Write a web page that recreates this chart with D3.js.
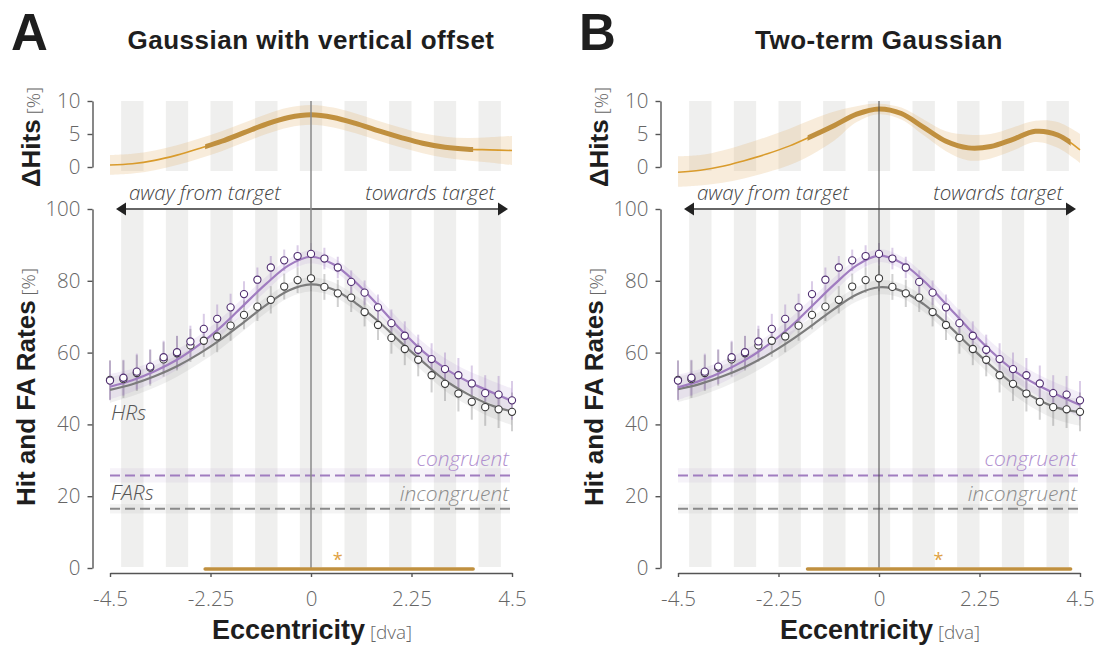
<!DOCTYPE html>
<html>
<head>
<meta charset="utf-8">
<script src="https://cdn.jsdelivr.net/npm/d3@7/dist/d3.min.js"></script>
<style>
  body { margin: 0; background: #fff; }
  svg { display: block; }
  .light { font-family: "Open Sans", Inter, sans-serif; font-weight: 300; }
  .bold { font-family: "Liberation Sans", Arial, sans-serif; font-weight: bold; fill: #1e1e1e; }
</style>
</head>
<body>
<svg id="chart" width="1113" height="646"></svg>
<script>
/////////////////////////////////////////////////////////
/////////////////////// Data ////////////////////////////
/////////////////////////////////////////////////////////

//eccentricity bins of the observed hit rates [dva]
const eccentricities = [-4.5, -4.2, -3.9, -3.6, -3.3, -3.0, -2.7, -2.4, -2.1, -1.8, -1.5,
  -1.2, -0.9, -0.6, -0.3, 0, 0.3, 0.6, 0.9, 1.2, 1.5, 1.8, 2.1, 2.4, 2.7, 3.0, 3.3, 3.6,
  3.9, 4.2, 4.5];
//observed hit rates [%]
const hrCongruent = [52.2, 53.0, 54.7, 56.1, 58.7, 60.1, 63.1, 66.6, 69.4, 72.6, 76.3,
  80.3, 83.7, 85.7, 86.9, 87.5, 86.2, 83.7, 79.7, 76.7, 72.6, 68.2, 64.7, 60.8, 58.2, 55.4,
  53.7, 51.4, 48.7, 48.3, 46.7];
const hrIncongruent = [52.4, 52.6, 54.3, 55.8, 58.1, 59.8, 62.0, 63.3, 64.5, 67.5, 70.5,
  72.8, 74.7, 78.4, 80.2, 80.7, 78.3, 76.5, 75.3, 71.3, 67.7, 64.1, 61.0, 58.0, 53.7, 51.3,
  48.6, 46.3, 44.8, 44.2, 43.5];
//error bar half lengths [%]
const errCongruent = [5.5, 5.0, 5.0, 4.8, 4.6, 4.6, 4.4, 4.2, 4.0, 3.8, 3.6, 3.4, 3.2,
  3.0, 3.0, 3.0, 3.0, 3.0, 3.2, 3.4, 3.6, 3.8, 4.0, 4.2, 4.4, 4.6, 4.8, 5.0, 5.0, 5.2, 5.4];
const errIncongruent = [5.5, 5.2, 5.0, 5.0, 4.8, 4.8, 4.6, 4.5, 4.4, 4.2, 4.0, 4.0, 3.8,
  3.6, 3.6, 3.6, 3.6, 3.8, 4.0, 4.0, 4.2, 4.4, 4.5, 4.6, 4.8, 4.8, 5.0, 5.0, 5.2, 5.2, 5.4];

//eccentricities at which the fitted curves were read
const fitGrid = [-4.5, -4, -3.5, -3, -2.5, -2, -1.5, -1, -0.5, 0, 0.5, 1, 1.5, 2, 2.5, 3,
  3.5, 4, 4.5];

//A: Gaussian with vertical offset
const fitACongruent = [50.5, 52.3, 54.8, 58.0, 62.2, 67.3, 73.3, 79.2, 84.3, 86.7, 84.6,
  79.6, 73.2, 66.5, 60.4, 55.6, 52.0, 49.2, 46.5];
const fitAIncongruent = [49.6, 51.2, 53.4, 56.2, 59.7, 63.8, 68.5, 73.3, 77.3, 79.0, 77.6,
  73.8, 68.8, 63.0, 57.5, 52.3, 48.5, 45.5, 43.6];
const dHitsA = [0.3, 0.5, 1.0, 1.8, 2.8, 3.9, 5.2, 6.5, 7.5, 7.9, 7.5, 6.6, 5.5, 4.5, 3.6,
  3.0, 2.7, 2.6, 2.5];
const dHitsALow = [-1.2, -1.0, -0.5, 0.3, 1.3, 2.4, 3.7, 5.0, 6.0, 6.4, 6.0, 5.1, 4.0, 3.0,
  2.1, 1.4, 1.0, 0.7, 0.3];
const dHitsAHigh = [1.8, 2.0, 2.5, 3.3, 4.3, 5.4, 6.7, 8.0, 9.0, 9.4, 9.0, 8.1, 7.0, 6.0,
  5.1, 4.6, 4.4, 4.5, 4.7];
const sigA = [-2.37, 3.63];
const starA = 0.6;

//B: two-term Gaussian
const fitBCongruent = [50.3, 52.2, 54.7, 57.9, 62.0, 67.0, 73.0, 79.0, 84.3, 87.0, 85.0,
  80.0, 73.5, 66.8, 60.5, 55.2, 51.3, 48.2, 45.4];
const fitBIncongruent = [49.8, 51.3, 53.4, 56.0, 59.3, 63.2, 67.6, 72.2, 76.2, 78.2, 77.2,
  73.5, 68.2, 62.2, 56.4, 51.3, 47.3, 44.6, 43.4];
const dHitsB = [-0.8, -0.5, 0.1, 1.0, 2.0, 3.2, 4.7, 6.3, 8.0, 8.8, 8.1, 6.0, 3.9, 2.9, 3.1,
  4.2, 5.4, 4.85, 2.6];
const dHitsBLow = [-3.0, -2.8, -2.4, -1.7, -0.8, 0.3, 1.9, 4.0, 6.8, 8.0, 7.2, 4.8, 2.4, 1.0,
  1.3, 2.5, 3.8, 2.9, 0.6];
const dHitsBHigh = [1.6, 1.8, 2.5, 3.5, 4.6, 5.8, 7.2, 8.4, 9.2, 9.6, 9.0, 7.2, 5.4, 4.9,
  5.0, 6.0, 7.0, 6.8, 5.0];
const sigB = [-1.6, 4.29];
const starB = 1.33;

//confidence band half widths of the fitted hit-rate curves [%]
const bandCongruent = [3.5, 3.2, 3.0, 2.8, 2.6, 2.4, 2.2, 2.0, 1.8, 1.8, 1.8, 2.0, 2.2, 2.4,
  2.6, 2.8, 3.0, 3.2, 3.5];
const bandIncongruent = [3.6, 3.3, 3.1, 2.9, 2.7, 2.5, 2.3, 2.1, 2.0, 2.0, 2.0, 2.1, 2.3,
  2.5, 2.7, 2.9, 3.1, 3.4, 3.8];

//false alarm rates [%] and their bands
const farCongruent = 25.8, farCongruentBand = 2.0;
const farIncongruent = 16.5, farIncongruentBand = 1.3;

//background stripes (centres, dva) and ticks
const stripeCentres = [-4, -3, -2, -1, 0, 1, 2, 3, 4];
const xTicks = [-4.5, -2.25, 0, 2.25, 4.5];
const xTickLabels = ['-4.5', '-2.25', '0', '2.25', '4.5'];
const yTicks = [0, 20, 40, 60, 80, 100];
const dHitsTicks = [0, 5, 10];

/////////////////////////////////////////////////////////
////////////////////// Colours //////////////////////////
/////////////////////////////////////////////////////////

const col = {
  stripe: '#efefee',
  purple: '#a07cc0',
  purpleDot: '#4f2d70',
  grey: '#7c7c7c',
  greyDot: '#3a3a3a',
  gold: '#c0903f',
  goldThin: '#d99b2c',
  goldBand: 'rgba(228,180,110,0.25)',
  axis: '#555',
  tick: '#666'
};

const svg = d3.select('#chart');

/////////////////////////////////////////////////////////
/////////////////// Draw one panel //////////////////////
/////////////////////////////////////////////////////////

function drawPanel(cfg) {
  let g = svg.append('g').attr('transform', `translate(${cfg.dx},0)`);

  let x = d3.scaleLinear().domain([-4.5, 4.5]).range([110, 512]),
    yTop = d3.scaleLinear().domain([0, 10]).range([167, 101]),
    y = d3.scaleLinear().domain([0, 100]).range([568, 209]);

  let curve = d3.curveCatmullRom.alpha(0.5);

  //Panel letter and title
  g.append('text')
    .attr('class', 'bold')
    .attr('x', 11)
    .attr('y', 50)
    .style('font-size', '51px')
    .text(cfg.letter);
  g.append('text')
    .attr('class', 'bold')
    .attr('x', 311)
    .attr('y', 49)
    .attr('text-anchor', 'middle')
    .style('font-size', '26px')
    .style('letter-spacing', '0.5px')
    .text(cfg.title);

  //Stripes (inset and main)
  g.selectAll('.stripeTop')
    .data(stripeCentres)
    .enter()
    .append('rect')
    .attr('x', d => x(d - 0.25))
    .attr('width', d => x(d + 0.25) - x(d - 0.25))
    .attr('y', 101)
    .attr('height', 70)
    .style('fill', col.stripe);
  g.selectAll('.stripeMain')
    .data(stripeCentres)
    .enter()
    .append('rect')
    .attr('x', d => x(d - 0.25))
    .attr('width', d => x(d + 0.25) - x(d - 0.25))
    .attr('y', y(100) + 1)
    .attr('height', y(0) - y(100) - 2)
    .style('fill', col.stripe);

  /////////////////// ΔHits inset ///////////////////////

  g.append('path')
    .datum(cfg.dHits)
    .attr(
      'd',
      d3.area()
        .x((d, i) => x(fitGrid[i]))
        .y0((d, i) => yTop(cfg.dHitsLow[i]))
        .y1((d, i) => yTop(cfg.dHitsHigh[i]))
        .curve(curve)
    )
    .style('fill', col.goldBand);

  let dLine = d3.line()
    .x((d, i) => x(fitGrid[i]))
    .y(d => yTop(d))
    .curve(curve);

  g.append('path')
    .datum(cfg.dHits)
    .attr('d', dLine)
    .style('fill', 'none')
    .style('stroke', col.goldThin)
    .style('stroke-width', 1.6);

  let clipId = 'sig' + cfg.letter;
  g.append('clipPath')
    .attr('id', clipId)
    .append('rect')
    .attr('x', x(cfg.sig[0]))
    .attr('width', x(cfg.sig[1]) - x(cfg.sig[0]))
    .attr('y', 60)
    .attr('height', 160);
  g.append('path')
    .datum(cfg.dHits)
    .attr('d', dLine)
    .attr('clip-path', `url(#${clipId})`)
    .style('fill', 'none')
    .style('stroke', col.gold)
    .style('stroke-width', 5);

  let topAxis = g.append('g')
    .attr('transform', 'translate(92.5,0)')
    .call(d3.axisLeft(yTop).tickValues(dHitsTicks).tickSize(5).tickSizeOuter(0).tickPadding(7));

  //ΔHits label
  let tl = g.append('text')
    .attr('transform', 'translate(40,137) rotate(-90)')
    .attr('text-anchor', 'middle');
  tl.append('tspan').attr('class', 'bold').style('font-size', '26px').text('ΔHits');
  tl.append('tspan').attr('class', 'light').style('font-size', '19px').style('fill', '#666').text(' [%]');

  /////////////////// Direction arrow ///////////////////

  g.append('line')
    .attr('x1', 124).attr('x2', 500)
    .attr('y1', y(100)).attr('y2', y(100))
    .style('stroke', '#333')
    .style('stroke-width', 1.5);
  g.append('path')
    .attr('d', `M116,${y(100)} l10,-6.5 v13 z`)
    .style('fill', '#222');
  g.append('path')
    .attr('d', `M508,${y(100)} l-10,-6.5 v13 z`)
    .style('fill', '#222');
  g.append('text')
    .attr('class', 'light')
    .attr('x', 129)
    .attr('y', 200)
    .style('font-size', '20.5px')
    .style('font-style', 'italic')
    .style('fill', '#444')
    .text('away from target');
  g.append('text')
    .attr('class', 'light')
    .attr('x', 495)
    .attr('y', 200)
    .attr('text-anchor', 'end')
    .style('font-size', '20.5px')
    .style('font-style', 'italic')
    .style('fill', '#444')
    .text('towards target');

  /////////////////// False alarm rates //////////////////

  [
    { v: farCongruent, b: farCongruentBand, c: col.purple, bc: 'rgba(160,124,192,0.09)' },
    { v: farIncongruent, b: farIncongruentBand, c: '#8a8a8a', bc: 'rgba(120,120,120,0.08)' }
  ].forEach(f => {
    g.append('rect')
      .attr('x', x(-4.5))
      .attr('width', x(4.5) - x(-4.5) - 2)
      .attr('y', y(f.v + f.b))
      .attr('height', y(f.v - f.b) - y(f.v + f.b))
      .style('fill', f.bc);
    g.append('line')
      .attr('x1', x(-4.5)).attr('x2', x(4.5) - 2)
      .attr('y1', y(f.v)).attr('y2', y(f.v))
      .style('stroke', f.c)
      .style('stroke-width', 2)
      .style('stroke-dasharray', '10,5');
  });

  /////////////////// Hit rate fits /////////////////////

  let series = [
    { obs: hrIncongruent, err: errIncongruent, fit: cfg.fitIncongruent, band: bandIncongruent,
      line: col.grey, dot: col.greyDot, bandFill: 'rgba(110,110,110,0.10)', errCol: 'rgba(120,120,120,0.35)' },
    { obs: hrCongruent, err: errCongruent, fit: cfg.fitCongruent, band: bandCongruent,
      line: col.purple, dot: col.purpleDot, bandFill: 'rgba(160,120,200,0.13)', errCol: 'rgba(150,110,185,0.35)' }
  ];

  series.forEach(s => {
    g.append('path')
      .datum(s.fit)
      .attr(
        'd',
        d3.area()
          .x((d, i) => x(fitGrid[i]))
          .y0((d, i) => y(d - s.band[i]))
          .y1((d, i) => y(d + s.band[i]))
          .curve(curve)
      )
      .style('fill', s.bandFill);
  });

  series.forEach(s => {
    g.selectAll(null)
      .data(s.obs)
      .enter()
      .append('line')
      .attr('x1', (d, i) => x(eccentricities[i]))
      .attr('x2', (d, i) => x(eccentricities[i]))
      .attr('y1', (d, i) => y(d - s.err[i]))
      .attr('y2', (d, i) => y(d + s.err[i]))
      .style('stroke', s.errCol)
      .style('stroke-width', 2);
  });

  //vertical line at 0 dva
  g.append('line')
    .attr('x1', x(0)).attr('x2', x(0))
    .attr('y1', yTop(10)).attr('y2', y(0))
    .style('stroke', cfg.zeroCol)
    .style('stroke-width', cfg.zeroWidth);

  series.forEach(s => {
    g.append('path')
      .datum(s.fit)
      .attr('d', d3.line().x((d, i) => x(fitGrid[i])).y(d => y(d)).curve(curve))
      .style('fill', 'none')
      .style('stroke', s.line)
      .style('stroke-width', 2.2);
  });

  series.forEach(s => {
    g.selectAll(null)
      .data(s.obs)
      .enter()
      .append('circle')
      .attr('cx', (d, i) => x(eccentricities[i]))
      .attr('cy', d => y(d))
      .attr('r', 3.6)
      .style('fill', '#fff')
      .style('stroke', s.dot)
      .style('stroke-width', 1.1);
  });

  //labels of the lines
  let lab = (txt, xx, yy, anchor, fill) =>
    g.append('text')
      .attr('class', 'light')
      .attr('x', xx)
      .attr('y', yy)
      .attr('text-anchor', anchor)
      .style('font-size', '21px')
      .style('font-style', 'italic')
      .style('fill', fill)
      .text(txt);
  if (cfg.letter === 'A') {
    lab('HRs', 111, 420, 'start', '#555');
    lab('FARs', 111, 500, 'start', '#555');
  }
  lab('congruent', 509, 466, 'end', '#b08fcf');
  lab('incongruent', 509, 501, 'end', '#8c8c8c');

  //significance bar and star
  g.append('line')
    .attr('x1', x(cfg.sig[0])).attr('x2', x(cfg.sig[1]))
    .attr('y1', y(0) + 1).attr('y2', y(0) + 1)
    .style('stroke', col.gold)
    .style('stroke-width', 3.5)
    .style('stroke-linecap', 'round');
  g.append('text')
    .attr('x', x(cfg.star))
    .attr('y', 566)
    .attr('text-anchor', 'middle')
    .style('font-family', '"Open Sans", sans-serif')
    .style('font-size', '18px')
    .style('fill', '#e0a244')
    .text('*');

  /////////////////// Axes ///////////////////////////////

  let yAxis = g.append('g')
    .attr('transform', 'translate(92.5,0)')
    .call(d3.axisLeft(y).tickValues(yTicks).tickSize(5).tickSizeOuter(0).tickPadding(7));

  let xAxis = g.append('g')
    .attr('transform', 'translate(0,573)')
    .call(
      d3.axisBottom(x)
        .tickValues(xTicks)
        .tickFormat((d, i) => xTickLabels[i])
        .tickSize(4)
        .tickSizeOuter(0)
        .tickPadding(14)
    );

  [topAxis, yAxis, xAxis].forEach(a => {
    a.select('.domain').style('stroke', col.axis).style('stroke-width', 1.4);
    a.selectAll('.tick line').style('stroke', col.axis).style('stroke-width', 1.4);
    a.selectAll('.tick text')
      .attr('class', 'light')
      .style('font-size', '20.5px')
      .style('fill', col.tick);
  });

  //axis titles
  let yl = g.append('text')
    .attr('transform', 'translate(35,387) rotate(-90)')
    .attr('text-anchor', 'middle');
  yl.append('tspan').attr('class', 'bold').style('font-size', '26px').text('Hit and FA Rates');
  yl.append('tspan').attr('class', 'light').style('font-size', '19px').style('fill', '#666').text(' [%]');

  let xl = g.append('text')
    .attr('x', 312)
    .attr('y', 639)
    .attr('text-anchor', 'middle');
  xl.append('tspan').attr('class', 'bold').style('font-size', '27px').text('Eccentricity');
  xl.append('tspan').attr('class', 'light').style('font-size', '19px').style('fill', '#666').text(' [dva]');
}

drawPanel({
  dx: 0,
  letter: 'A',
  title: 'Gaussian with vertical offset',
  fitCongruent: fitACongruent,
  fitIncongruent: fitAIncongruent,
  dHits: dHitsA,
  dHitsLow: dHitsALow,
  dHitsHigh: dHitsAHigh,
  sig: sigA,
  star: starA,
  zeroCol: '#8a8a8a',
  zeroWidth: 1.5
});

drawPanel({
  dx: 568,
  letter: 'B',
  title: 'Two-term Gaussian',
  fitCongruent: fitBCongruent,
  fitIncongruent: fitBIncongruent,
  dHits: dHitsB,
  dHitsLow: dHitsBLow,
  dHitsHigh: dHitsBHigh,
  sig: sigB,
  star: starB,
  zeroCol: '#444',
  zeroWidth: 1
});
</script>
</body>
</html>
